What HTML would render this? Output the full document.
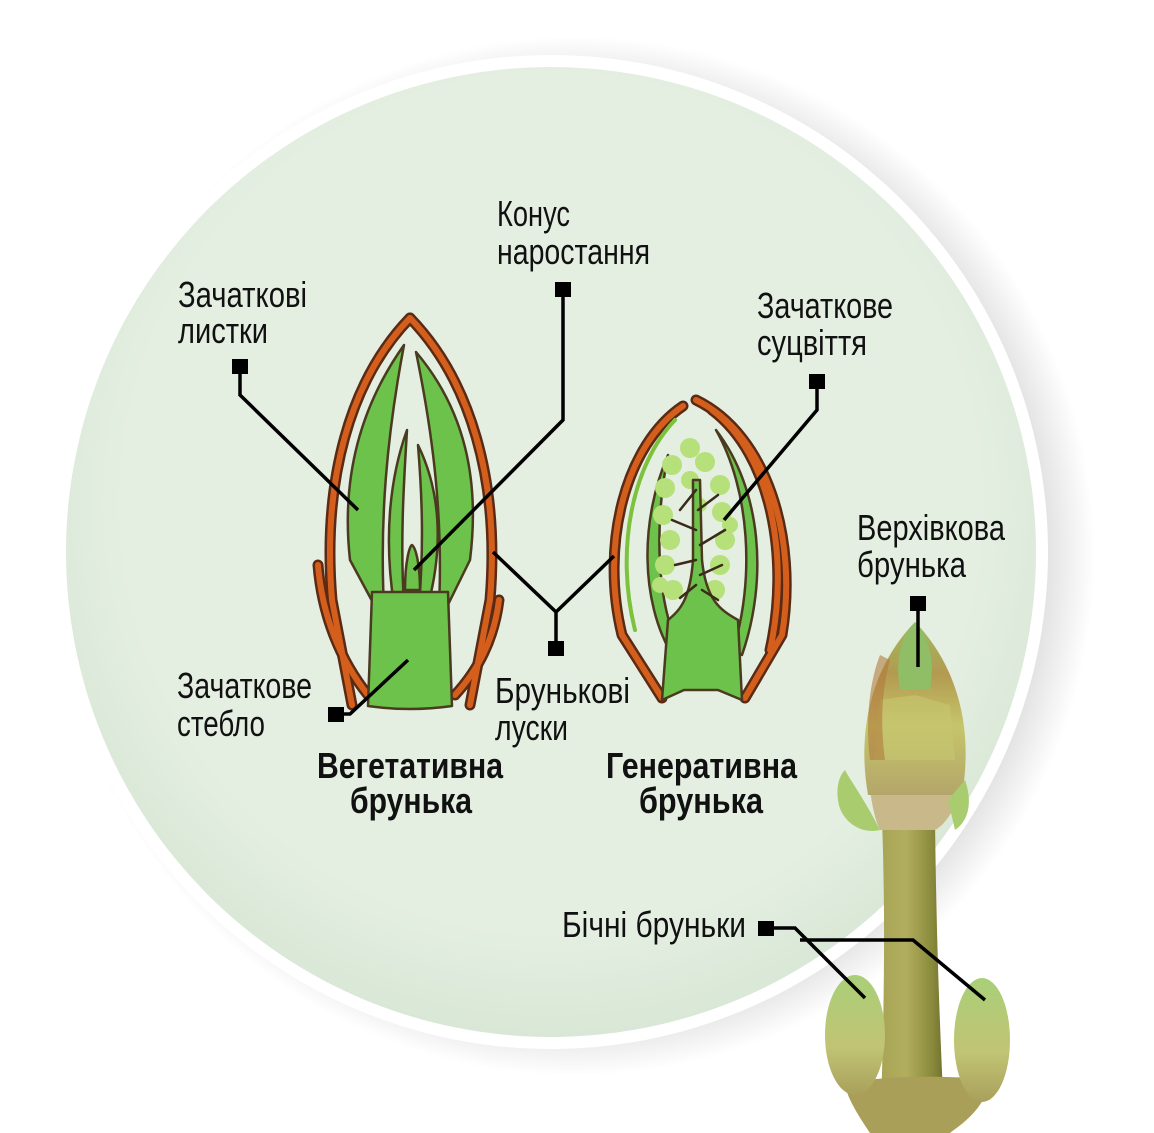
<!DOCTYPE html>
<html><head><meta charset="utf-8"><style>
html,body{margin:0;padding:0;background:#fff;}
body{width:1154px;height:1133px;overflow:hidden;position:relative;}
svg{position:absolute;left:0;top:0;}
.t{font-family:"Liberation Sans Narrow","Liberation Sans",sans-serif;font-size:36px;fill:#111;}
.b{font-family:"Liberation Sans Narrow","Liberation Sans",sans-serif;font-size:36px;font-weight:bold;fill:#111;}
</style></head><body>
<svg width="1154" height="1133" viewBox="0 0 1154 1133">
<defs>
<radialGradient id="sh" cx="0.5" cy="0.5" r="0.5">
<stop offset="0.9" stop-color="#000" stop-opacity="0.12"/>
<stop offset="1" stop-color="#000" stop-opacity="0"/>
</radialGradient>
<radialGradient id="fill" cx="0.5" cy="0.45" r="0.55">
<stop offset="0.8" stop-color="#e4efe2"/>
<stop offset="1" stop-color="#d9e7d6"/>
</radialGradient>
<linearGradient id="stem" x1="0" x2="1">
<stop offset="0" stop-color="#a7a455"/><stop offset="0.4" stop-color="#b2ae5e"/><stop offset="0.8" stop-color="#8a8a3c"/><stop offset="1" stop-color="#6f6d2c"/>
</linearGradient>
<linearGradient id="tb" x1="0" y1="0" x2="0" y2="1">
<stop offset="0" stop-color="#9dbc60"/><stop offset="0.3" stop-color="#b39a50"/><stop offset="0.6" stop-color="#c5c56a"/><stop offset="1" stop-color="#b4a66a"/>
</linearGradient>
<linearGradient id="sb" x1="0" y1="0" x2="0" y2="1">
<stop offset="0" stop-color="#a9cf78"/><stop offset="0.6" stop-color="#c1c474"/><stop offset="1" stop-color="#a9a05c"/>
</linearGradient>
</defs>
<circle cx="575" cy="556" r="520" fill="url(#sh)"/>
<circle cx="551" cy="552" r="497" fill="#fff"/>
<circle cx="551" cy="552" r="485" fill="url(#fill)"/>

<!-- Vegetative bud -->
<g stroke-linejoin="round" stroke-linecap="round">
<g fill="none" stroke="#5a2a14" stroke-width="11">
<path d="M410,318 C350,380 322,480 332,600 L352,705"/>
<path d="M410,318 C470,380 500,480 490,600 L470,705"/>
<path d="M318,565 C322,615 340,660 368,695"/>
<path d="M499,600 C494,640 478,670 455,695"/>
</g>
<g fill="none" stroke="#d45f1c" stroke-width="6">
<path d="M410,318 C350,380 322,480 332,600 L352,705"/>
<path d="M410,318 C470,380 500,480 490,600 L470,705"/>
<path d="M318,565 C322,615 340,660 368,695"/>
<path d="M499,600 C494,640 478,670 455,695"/>
</g>
<g fill="#6cc24a" stroke="#4a3a20" stroke-width="2.5">
<path d="M404,345 C365,400 340,470 350,560 L385,625 C378,520 388,430 404,345Z"/>
<path d="M416,352 C465,410 480,480 470,560 L438,625 C445,520 432,430 416,352Z"/>
<path d="M407,430 C389,480 384,540 394,605 L404,605 C400,540 404,480 407,430Z"/>
<path d="M418,445 C440,490 444,545 428,605 L419,605 C424,545 422,495 418,445Z"/>
<path d="M405,590 C405,560 410,545 412,545 C416,548 420,565 420,590Z"/>
<path d="M372,592 L448,592 L452,706 Q410,712 368,706Z"/>
</g>
</g>

<!-- Generative bud -->
<g stroke-linejoin="round" stroke-linecap="round" fill="none">
<g stroke="#5a2a14" stroke-width="11">
<path d="M683,406 C625,445 600,545 622,635 L662,698"/>
<path d="M696,400 C768,435 798,540 782,635 L745,698"/>
<path d="M712,410 C772,455 790,560 770,650"/>
</g>
<g stroke="#d45f1c" stroke-width="6">
<path d="M683,406 C625,445 600,545 622,635 L662,698"/>
<path d="M696,400 C768,435 798,540 782,635 L745,698"/>
<path d="M712,410 C772,455 790,560 770,650"/>
</g>
<path d="M675,420 C632,465 615,550 635,630" stroke="#7cc23c" stroke-width="4"/>
<g fill="#6cc24a" stroke="#4a3a20" stroke-width="2.5">
<path d="M668,455 C640,520 640,600 672,655 L680,650 C655,600 655,520 668,455Z"/>
<path d="M716,430 C762,490 768,580 742,655 L733,650 C755,580 750,490 716,430Z"/>
</g>
<g fill="#b5e07a">
<circle cx="690" cy="448" r="10"/><circle cx="672" cy="465" r="10"/><circle cx="705" cy="462" r="10"/>
<circle cx="665" cy="488" r="10"/><circle cx="720" cy="485" r="10"/><circle cx="690" cy="480" r="9"/>
<circle cx="663" cy="515" r="10"/><circle cx="722" cy="512" r="10"/><circle cx="670" cy="540" r="10"/>
<circle cx="725" cy="540" r="10"/><circle cx="665" cy="565" r="10"/><circle cx="720" cy="565" r="10"/>
<circle cx="673" cy="590" r="10"/><circle cx="715" cy="590" r="10"/><circle cx="730" cy="525" r="8"/>
<circle cx="660" cy="585" r="8"/><circle cx="700" cy="505" r="7"/>
</g>
<g fill="#6cc24a" stroke="#4a3a20" stroke-width="2.5">
<path d="M668,620 C680,610 690,600 693,560 L693,480 L700,480 L702,560 C706,600 720,610 738,620 L742,700 L718,690 L684,690 L662,700Z"/>
</g>
<g stroke="#3a2a18" stroke-width="2.5">
<path d="M696,490 L680,510 M698,510 L718,495 M696,530 L672,520 M700,545 L725,530 M696,560 L675,565 M700,575 L722,565 M696,585 L680,598 M702,590 L718,600"/>
</g>
</g>

<!-- Twig -->
<g>
<path d="M882,820 C885,900 885,1000 880,1133 L945,1133 C938,1000 936,900 935,820Z" fill="url(#stem)"/>
<path d="M845,1085 C870,1075 955,1075 990,1080 C985,1110 960,1125 950,1133 L870,1133 C860,1118 848,1100 845,1085Z" fill="#aa9f58"/>
<path d="M870,790 L960,790 C955,810 945,825 935,830 L880,830 C875,820 872,805 870,790Z" fill="#c9b98a"/>
<path d="M915,622 C952,660 975,720 962,795 L868,795 C855,720 878,660 915,622Z" fill="url(#tb)"/>
<path d="M915,622 C930,640 935,660 930,690 L900,690 C895,660 900,640 915,622Z" fill="#8fbe66"/>
<path d="M880,700 L915,695 L950,705 L955,760 L875,760Z" fill="#c7c670" opacity="0.6"/>
<path d="M880,655 C870,680 865,720 870,760 L885,760 C880,720 882,690 890,660Z" fill="#b07a3e" opacity="0.6"/>
<path d="M845,770 C850,780 865,800 880,830 C860,835 840,820 838,800 C836,785 840,775 845,770Z" fill="#a9cc6e"/>
<path d="M965,780 C972,800 970,820 955,830 L948,800Z" fill="#a9cc6e"/>
<ellipse cx="855" cy="1035" rx="30" ry="60" fill="url(#sb)"/>
<ellipse cx="982" cy="1040" rx="28" ry="62" fill="url(#sb)"/>
</g>

<!-- connectors -->
<g stroke="#000" stroke-width="3.5" fill="none">
<path d="M563,289 L563,420 L414,570"/>
<path d="M240,366 L240,395 L358,510"/>
<path d="M817,381 L817,410 L724,520"/>
<path d="M918,603 L918,667"/>
<path d="M336,714 L350,714 L408,660"/>
<path d="M556,648 L556,612 L493,552 M556,612 L614,556"/>
<path d="M766,928 L795,928 L865,998 M800,940 L913,940 L985,1000"/>
</g>
<g fill="#000">
<rect x="555" y="282" width="16" height="15"/>
<rect x="232" y="359" width="16" height="15"/>
<rect x="809" y="374" width="16" height="15"/>
<rect x="910" y="596" width="16" height="15"/>
<rect x="328" y="707" width="16" height="15"/>
<rect x="548" y="641" width="16" height="15"/>
<rect x="758" y="921" width="16" height="15"/>
</g>

<text class="t" x="497" y="226" textLength="73" lengthAdjust="spacingAndGlyphs">Конус</text>
<text class="t" x="497" y="264" textLength="153" lengthAdjust="spacingAndGlyphs">наростання</text>
<text class="t" x="178" y="307" textLength="129" lengthAdjust="spacingAndGlyphs">Зачаткові</text>
<text class="t" x="178" y="343" textLength="90" lengthAdjust="spacingAndGlyphs">листки</text>
<text class="t" x="757" y="318" textLength="136" lengthAdjust="spacingAndGlyphs">Зачаткове</text>
<text class="t" x="757" y="355" textLength="110" lengthAdjust="spacingAndGlyphs">суцвіття</text>
<text class="t" x="857" y="540" textLength="148" lengthAdjust="spacingAndGlyphs">Верхівкова</text>
<text class="t" x="857" y="577" textLength="109" lengthAdjust="spacingAndGlyphs">брунька</text>
<text class="t" x="177" y="698" textLength="135" lengthAdjust="spacingAndGlyphs">Зачаткове</text>
<text class="t" x="177" y="736" textLength="88" lengthAdjust="spacingAndGlyphs">стебло</text>
<text class="t" x="495" y="703" textLength="135" lengthAdjust="spacingAndGlyphs">Брунькові</text>
<text class="t" x="495" y="740" textLength="73" lengthAdjust="spacingAndGlyphs">луски</text>
<text class="b" x="317" y="778" textLength="186" lengthAdjust="spacingAndGlyphs">Вегетативна</text>
<text class="b" x="350" y="813" textLength="122" lengthAdjust="spacingAndGlyphs">брунька</text>
<text class="b" x="606" y="778" textLength="191" lengthAdjust="spacingAndGlyphs">Генеративна</text>
<text class="b" x="639" y="813" textLength="124" lengthAdjust="spacingAndGlyphs">брунька</text>
<text class="t" x="562" y="937" textLength="184" lengthAdjust="spacingAndGlyphs">Бічні бруньки</text>
</svg>
</body></html>
